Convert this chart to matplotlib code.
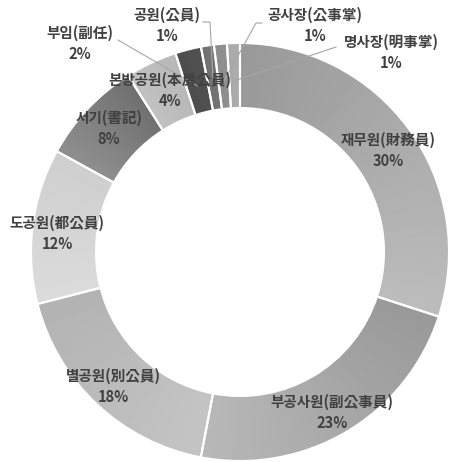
import numpy as np
import matplotlib
matplotlib.use("Agg")
import matplotlib.pyplot as plt

plt.rcParams['font.family'] = ['Noto Sans CJK KR', 'DejaVu Sans']

# 직책별 비율 (%)
names = ['재무원(財務員)', '부공사원(副公事員)', '별공원(別公員)', '도공원(都公員)', '서기(書記)',
         '본방공원(本房公員)', '부임(副任)', '공원(公員)', '공사장(公事掌)', '명사장(明事掌)']
values = [30, 23, 18, 12, 8, 4, 2, 1, 1, 1]

# 조각별 음영 (시작 -> 끝, 회색조 0~1)
shade_start = [0.60, 0.60, 0.77, 0.86, 0.56, 0.76, 0.30, 0.44, 0.55, 0.66]
shade_end = [0.74, 0.72, 0.70, 0.81, 0.44, 0.72, 0.32, 0.46, 0.57, 0.68]

# 라벨 위치 (픽셀, 이름 줄 중심)
label_px = [(388, 140), (332, 402), (113, 376), (57, 223), (109, 118),
            (170, 80), (80, 33), (167, 15), (315, 15), (391, 42)]
# 지시선 시작점 (픽셀), 없으면 None
leader_px = [None, None, None, None, None, None,
             [(118, 40)], [(203, 22), (210, 22)], [(262, 23), (256, 23)], [(336, 47)]]

W, H = 449, 462
CX, CY, R = 240, 252, 209
HOLE = 144


def to_data(px, py):
    return (px - CX) / R, (CY - py) / R


fig = plt.figure(figsize=(W / 100, H / 100), dpi=100)
ax = fig.add_axes([0, 0, 1, 1])

wedges, _ = ax.pie(values, radius=1, startangle=90, counterclock=False,
                   wedgeprops=dict(width=1 - HOLE / R, facecolor='none',
                                   edgecolor='white', linewidth=1.5))

# 각 조각에 각도 방향 그라데이션 채우기
n = 700
gx, gy = np.meshgrid(np.linspace(-1, 1, n), np.linspace(-1, 1, n))
ang = np.degrees(np.arctan2(gy, gx))
for w, c0, c1 in zip(wedges, shade_start, shade_end):
    t1, t2 = w.theta1, w.theta2
    a = t1 + (ang - t1) % 360
    t = np.clip((t2 - a) / (t2 - t1), 0, 1)
    img = c0 + (c1 - c0) * t
    im = ax.imshow(img, extent=(-1, 1, -1, 1), origin='lower', cmap='gray',
                   vmin=0, vmax=1, zorder=0.5, interpolation='bilinear')
    im.set_clip_path(w)

# 라벨과 지시선
for w, name, v, (lx, ly), lead in zip(wedges, names, values, label_px, leader_px):
    x, y = to_data(lx, ly)
    ax.text(x, y, name, ha='center', va='center', fontsize=10.5,
            fontweight='bold', color='#404040', zorder=3)
    x2, y2 = to_data(lx, ly + 21)
    ax.text(x2, y2, f'{v}%', ha='center', va='center', fontsize=10.5,
            fontweight='bold', color='#404040', zorder=3)
    if lead:
        mid = np.radians((w.theta1 + w.theta2) / 2)
        r = 0.82
        pts = [to_data(*p) for p in lead] + [(r * np.cos(mid), r * np.sin(mid))]
        xs, ys = zip(*pts)
        ax.plot(xs, ys, color='#a6a6a6', lw=0.8, zorder=2)

ax.set_xlim(-CX / R, (W - CX) / R)
ax.set_ylim(-(H - CY) / R, CY / R)
ax.set_aspect('equal')
ax.axis('off')

fig.savefig('out.png', dpi=100, facecolor='white')
